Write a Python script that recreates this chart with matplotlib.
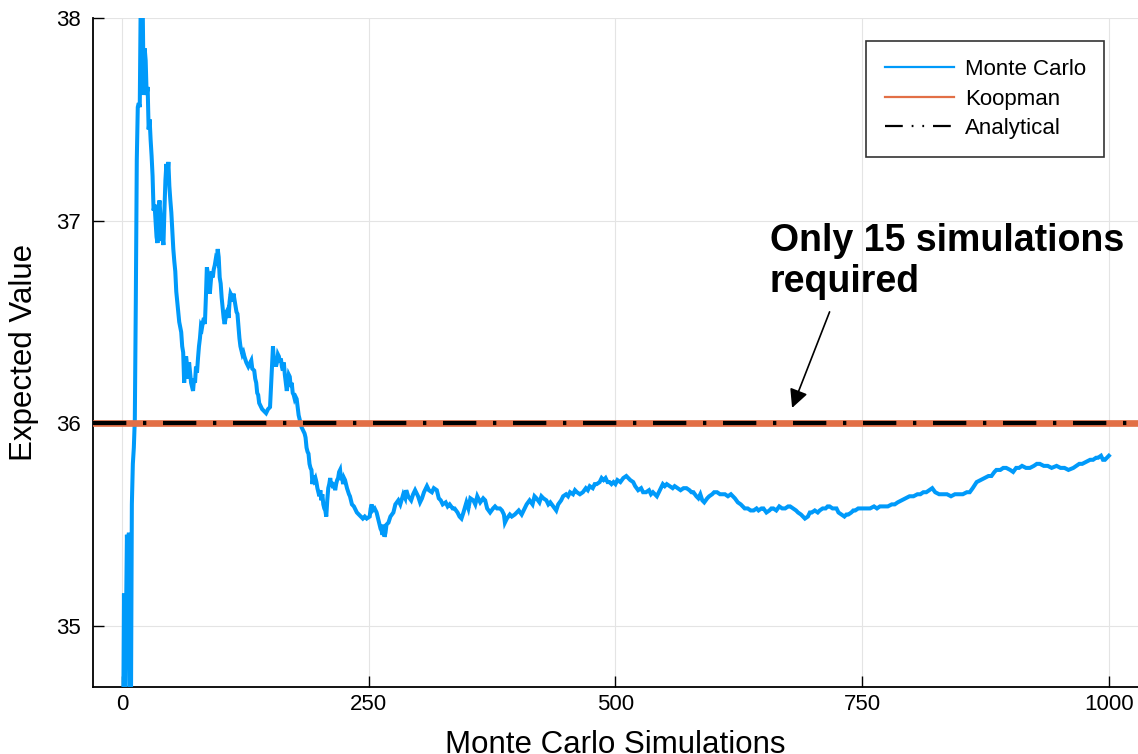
import numpy as np
import matplotlib
matplotlib.use("Agg")
import matplotlib.pyplot as plt
from matplotlib.lines import Line2D

plt.rcParams['font.family'] = ['Liberation Sans', 'DejaVu Sans']

# running mean of the Monte Carlo estimate vs. number of simulations
sims = [
    1, 2, 3, 4, 5, 6, 7, 8, 9, 10, 11, 12, 13, 14, 15, 16, 17, 18, 19, 20,
    21, 22, 23, 24, 25, 26, 27, 28, 29, 30, 31, 32, 33, 34, 35, 36, 37, 38, 39, 40,
    41, 42, 43, 44, 45, 46, 47, 48, 49, 50, 51, 52, 53, 54, 55, 56, 57, 58, 60, 61,
    62, 63, 64, 65, 66, 67, 68, 69, 70, 71, 72, 73, 74, 75, 76, 77, 78, 79, 80, 81,
    82, 83, 84, 85, 86, 87, 88, 89, 90, 91, 92, 93, 94, 95, 96, 97, 98, 99, 100, 101,
    102, 103, 104, 105, 106, 107, 108, 109, 110, 111, 112, 113, 114, 115, 116, 117, 118, 119, 120, 121,
    122, 123, 124, 126, 128, 130, 131, 132, 134, 135, 136, 137, 138, 139, 140, 141, 142, 144, 146, 148,
    150, 151, 152, 153, 154, 155, 156, 157, 158, 159, 160, 161, 162, 163, 164, 165, 166, 167, 168, 169,
    170, 171, 172, 173, 174, 175, 176, 177, 178, 179, 180, 181, 182, 183, 184, 185, 186, 187, 188, 189,
    190, 191, 192, 193, 194, 195, 196, 197, 198, 199, 200, 201, 202, 203, 204, 205, 206, 207, 208, 209,
    210, 211, 212, 213, 214, 215, 216, 217, 218, 219, 220, 221, 222, 223, 224, 225, 226, 228, 230, 231,
    233, 235, 238, 240, 242, 244, 246, 248, 251, 252, 253, 254, 256, 258, 260, 262, 263, 264, 265, 266,
    267, 268, 270, 272, 275, 277, 280, 282, 285, 287, 288, 290, 293, 295, 297, 300, 302, 304, 306, 309,
    311, 314, 316, 319, 321, 323, 325, 328, 330, 332, 335, 337, 340, 342, 344, 346, 349, 351, 353, 356,
    358, 360, 363, 366, 368, 370, 373, 376, 378, 380, 383, 385, 387, 388, 390, 393, 395, 398, 400, 402,
    405, 408, 410, 413, 416, 418, 420, 423, 425, 427, 430, 432, 434, 437, 440, 442, 445, 447, 450, 452,
    454, 457, 459, 461, 464, 467, 470, 472, 474, 477, 479, 481, 484, 486, 488, 490, 492, 494, 496, 498,
    500, 502, 505, 508, 511, 513, 515, 518, 520, 523, 526, 528, 531, 534, 536, 538, 540, 542, 545, 548,
    550, 552, 555, 558, 560, 563, 566, 569, 572, 575, 577, 579, 582, 584, 586, 588, 590, 593, 595, 598,
    600, 603, 606, 609, 611, 614, 617, 619, 621, 624, 627, 629, 631, 634, 637, 640, 643, 645, 648, 650,
    653, 656, 658, 660, 663, 666, 669, 672, 675, 677, 680, 683, 685, 688, 690, 692, 695, 697, 699, 702,
    705, 707, 710, 713, 715, 717, 720, 722, 724, 726, 729, 732, 734, 736, 739, 741, 743, 746, 748, 750,
    754, 758, 762, 765, 768, 772, 776, 780, 783, 786, 790, 794, 798, 802, 806, 809, 812, 815, 818, 821,
    824, 828, 832, 836, 840, 844, 848, 852, 856, 859, 862, 866, 870, 874, 878, 881, 884, 886, 890, 893,
    896, 900, 903, 906, 909, 912, 916, 920, 924, 927, 930, 934, 938, 942, 947, 951, 955, 959, 964, 967,
    970, 973, 977, 981, 984, 987, 989, 992, 994, 996, 998, 1000,
]
mc_mean = [
    34.30, 35.16, 34.40, 35.00, 35.45, 35.25, 35.46, 34.55, 34.50, 35.60, 35.80, 35.88, 36.02, 36.60, 37.30, 37.56, 37.58, 37.56, 38.10, 38.15,
    38.05, 37.62, 37.85, 37.79, 37.62, 37.66, 37.45, 37.50, 37.40, 37.32, 37.22, 37.05, 37.08, 37.00, 36.92, 36.89, 37.05, 37.10, 37.02, 36.90,
    36.92, 36.88, 37.05, 37.20, 37.28, 37.22, 37.29, 37.17, 37.10, 37.04, 36.95, 36.86, 36.80, 36.75, 36.65, 36.60, 36.55, 36.50, 36.45, 36.38,
    36.35, 36.20, 36.30, 36.33, 36.28, 36.22, 36.30, 36.25, 36.20, 36.18, 36.16, 36.22, 36.20, 36.28, 36.25, 36.32, 36.38, 36.42, 36.48, 36.47,
    36.50, 36.52, 36.49, 36.62, 36.77, 36.74, 36.68, 36.64, 36.70, 36.75, 36.72, 36.76, 36.78, 36.81, 36.80, 36.86, 36.82, 36.72, 36.69, 36.62,
    36.57, 36.52, 36.49, 36.52, 36.55, 36.56, 36.52, 36.60, 36.64, 36.63, 36.60, 36.64, 36.61, 36.58, 36.55, 36.54, 36.48, 36.42, 36.38, 36.36,
    36.34, 36.35, 36.33, 36.30, 36.28, 36.30, 36.31, 36.27, 36.26, 36.22, 36.20, 36.15, 36.14, 36.10, 36.09, 36.08, 36.07, 36.06, 36.05, 36.07,
    36.08, 36.18, 36.28, 36.38, 36.30, 36.32, 36.28, 36.30, 36.34, 36.33, 36.30, 36.32, 36.28, 36.26, 36.30, 36.24, 36.20, 36.16, 36.20, 36.24,
    36.23, 36.18, 36.20, 36.15, 36.14, 36.12, 36.13, 36.12, 36.08, 36.04, 36.02, 36.00, 35.98, 35.97, 35.96, 35.95, 35.93, 35.88, 35.86, 35.85,
    35.80, 35.78, 35.77, 35.70, 35.74, 35.72, 35.73, 35.71, 35.68, 35.66, 35.64, 35.67, 35.62, 35.65, 35.60, 35.58, 35.57, 35.54, 35.62, 35.68,
    35.70, 35.73, 35.69, 35.71, 35.68, 35.70, 35.67, 35.70, 35.72, 35.73, 35.76, 35.77, 35.72, 35.74, 35.70, 35.73, 35.72, 35.68, 35.65, 35.64,
    35.60, 35.59, 35.56, 35.55, 35.54, 35.53, 35.54, 35.53, 35.54, 35.58, 35.60, 35.57, 35.58, 35.56, 35.52, 35.48, 35.47, 35.45, 35.50, 35.44,
    35.46, 35.50, 35.51, 35.54, 35.56, 35.60, 35.62, 35.60, 35.65, 35.63, 35.67, 35.64, 35.62, 35.65, 35.67, 35.64, 35.61, 35.63, 35.66, 35.69,
    35.67, 35.66, 35.68, 35.67, 35.63, 35.62, 35.60, 35.61, 35.59, 35.60, 35.58, 35.58, 35.56, 35.54, 35.53, 35.56, 35.61, 35.58, 35.63, 35.62,
    35.60, 35.64, 35.61, 35.63, 35.62, 35.58, 35.56, 35.58, 35.59, 35.58, 35.58, 35.57, 35.55, 35.51, 35.53, 35.55, 35.54, 35.55, 35.56, 35.57,
    35.55, 35.58, 35.60, 35.62, 35.60, 35.64, 35.63, 35.61, 35.64, 35.63, 35.62, 35.60, 35.61, 35.59, 35.57, 35.60, 35.62, 35.64, 35.65, 35.64,
    35.66, 35.65, 35.67, 35.66, 35.65, 35.66, 35.68, 35.67, 35.69, 35.68, 35.70, 35.70, 35.71, 35.73, 35.72, 35.73, 35.71, 35.71, 35.70, 35.71,
    35.70, 35.72, 35.71, 35.73, 35.74, 35.73, 35.72, 35.71, 35.69, 35.67, 35.68, 35.66, 35.66, 35.67, 35.65, 35.66, 35.65, 35.64, 35.67, 35.70,
    35.69, 35.70, 35.69, 35.68, 35.69, 35.68, 35.67, 35.68, 35.68, 35.67, 35.66, 35.66, 35.64, 35.63, 35.65, 35.62, 35.61, 35.63, 35.64, 35.65,
    35.66, 35.66, 35.65, 35.65, 35.65, 35.64, 35.65, 35.64, 35.63, 35.61, 35.60, 35.59, 35.58, 35.58, 35.57, 35.57, 35.58, 35.57, 35.58, 35.58,
    35.56, 35.57, 35.58, 35.58, 35.57, 35.59, 35.58, 35.58, 35.59, 35.59, 35.58, 35.57, 35.56, 35.55, 35.54, 35.53, 35.54, 35.56, 35.56, 35.57,
    35.56, 35.57, 35.58, 35.58, 35.59, 35.59, 35.58, 35.58, 35.58, 35.56, 35.55, 35.54, 35.55, 35.55, 35.56, 35.57, 35.57, 35.58, 35.58, 35.58,
    35.58, 35.58, 35.59, 35.58, 35.59, 35.59, 35.59, 35.60, 35.60, 35.61, 35.62, 35.63, 35.64, 35.64, 35.65, 35.65, 35.66, 35.66, 35.67, 35.68,
    35.66, 35.65, 35.65, 35.65, 35.64, 35.65, 35.65, 35.65, 35.66, 35.66, 35.68, 35.71, 35.72, 35.73, 35.74, 35.74, 35.76, 35.77, 35.77, 35.78,
    35.78, 35.77, 35.76, 35.78, 35.78, 35.79, 35.78, 35.78, 35.79, 35.80, 35.80, 35.79, 35.79, 35.78, 35.79, 35.78, 35.78, 35.77, 35.78, 35.79,
    35.80, 35.80, 35.81, 35.82, 35.82, 35.83, 35.83, 35.84, 35.82, 35.82, 35.83, 35.84,
]
koopman_value = 36.0
analytical_value = 36.0

x_ticks = [0, 250, 500, 750, 1000]
y_ticks = [35, 36, 37, 38]
note_text = "Only 15 simulations\nrequired"

blue = '#009AFA'
orange = '#E26F46'

fig = plt.figure(figsize=(11.38, 7.54), dpi=100)
ax = fig.add_axes([0.0817, 0.0889, 0.9183, 0.8872])

ax.plot(sims, mc_mean, color=blue, lw=2.9, zorder=3, solid_joinstyle='miter')
ax.axhline(koopman_value, color=orange, lw=4.8, zorder=4)
ax.axhline(analytical_value, color='black', lw=3.0, zorder=5,
           linestyle=(0, (8, 4, 0.8, 4)), dash_capstyle='butt')

ax.set_xlim(-29.4, 1029.5)
ax.set_ylim(34.699, 38.0)
ax.set_xticks(x_ticks)
ax.set_yticks(y_ticks)
ax.grid(True, color='#e4e4e4', lw=0.8)
ax.set_axisbelow(True)

for side in ['top', 'right']:
    ax.spines[side].set_visible(False)
for side in ['left', 'bottom']:
    ax.spines[side].set_linewidth(1.3)
ax.tick_params(direction='in', length=8, width=1.0, labelsize=16, pad=5)
ax.tick_params(axis='y', pad=9)

ax.set_xlabel('Monte Carlo Simulations', fontsize=22.5, labelpad=11)
ax.set_ylabel('Expected Value', fontsize=22.5, labelpad=12)

# callout for the Koopman result (baseline of the last line)
ax.text(656.5, 36.648, note_text, fontsize=27, fontweight='bold',
        ha='left', va='baseline', linespacing=1.18, zorder=6)
ax.annotate('', xy=(679, 36.076), xytext=(717, 36.55),
            arrowprops=dict(arrowstyle='-|>', color='black', lw=1.2,
                            mutation_scale=28, shrinkA=0, shrinkB=0), zorder=6)

handles = [
    Line2D([], [], color=blue, lw=1.6),
    Line2D([], [], color=orange, lw=1.6),
    Line2D([], [], color='black', lw=1.6, linestyle=(0, (8, 4, 0.8, 4, 0.8, 4))),
]
leg = ax.legend(handles, ['Monte Carlo', 'Koopman', 'Analytical'],
                loc='upper right', bbox_to_anchor=(0.9675, 0.9656),
                borderaxespad=0, fontsize=16, frameon=True, fancybox=False,
                handlelength=3.1, handletextpad=0.5, labelspacing=0.38,
                borderpad=0.82)
leg.get_frame().set_edgecolor('black')
leg.get_frame().set_linewidth(1.2)

fig.savefig('out.png', dpi=100)
